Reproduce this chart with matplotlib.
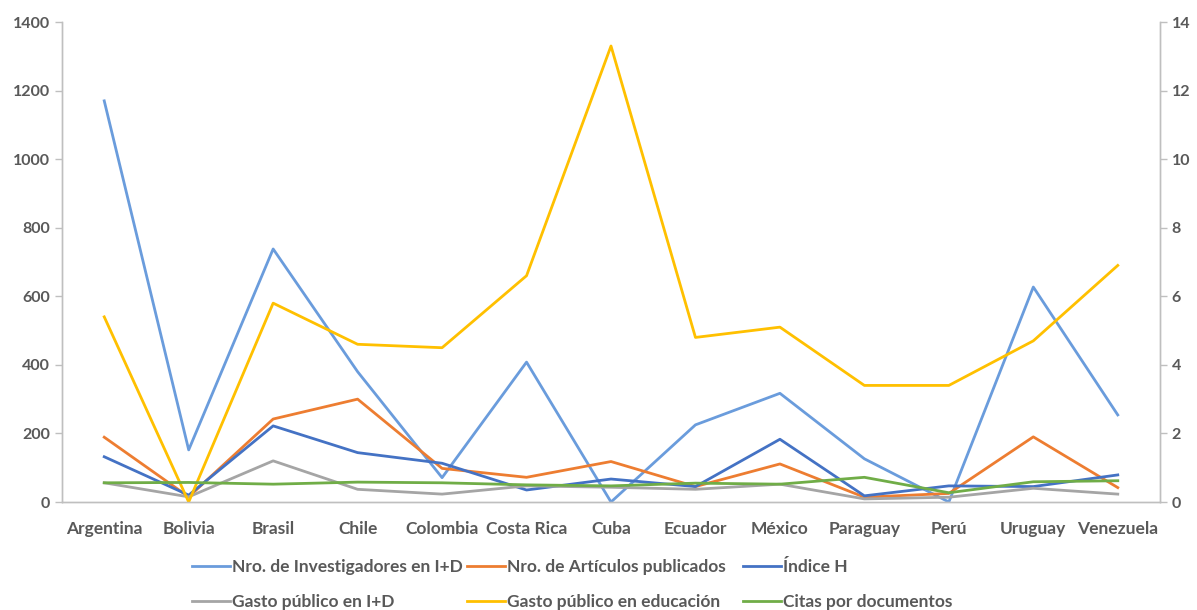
import numpy             as np
import matplotlib.pyplot as plt

plt.rcParams['font.family'] = ['Lato', 'DejaVu Sans']

# Countries along the x axis
countries = ['Argentina', 'Bolivia', 'Brasil', 'Chile', 'Colombia', 'Costa Rica',
             'Cuba', 'Ecuador', 'México', 'Paraguay', 'Perú', 'Uruguay', 'Venezuela']

# Left axis series
investigadores = [1170, 152, 738, 380, 71, 408, 0, 225, 317, 126, 0, 627, 254]
articulos      = [189, 15, 242, 300, 98, 72, 118, 45, 111, 14, 25, 190, 42]
indice_h       = [132, 20, 222, 144, 113, 35, 67, 45, 183, 18, 47, 45, 79]

# Right axis series
gasto_id        = [0.56, 0.15, 1.20, 0.37, 0.23, 0.47, 0.43, 0.37, 0.52, 0.09, 0.14, 0.40, 0.23]
gasto_educacion = [5.4, 0.0, 5.8, 4.6, 4.5, 6.6, 13.3, 4.8, 5.1, 3.4, 3.4, 4.7, 6.9]
citas           = [0.56, 0.57, 0.52, 0.58, 0.56, 0.50, 0.47, 0.55, 0.52, 0.72, 0.27, 0.59, 0.62]

left_ticks  = list(range(0, 1401, 200))
right_ticks = list(range(0, 15, 2))

x = np.arange(len(countries))
lw = 2.0
text_color = '#595959'
axis_color = '#BFBFBF'
W, H = 1197, 610

fig = plt.figure(figsize=(W/100, H/100), dpi=100)
ax  = fig.add_axes([62/W, 1 - 502/H, 1098/W, 480/H])
ax2 = ax.twinx()

l1, = ax.plot(x, investigadores, color='#6A9CDC', lw=lw, label='Nro. de Investigadores en I+D')
l2, = ax.plot(x, articulos,      color='#ED7D31', lw=lw, label='Nro. de Artículos publicados')
l3, = ax.plot(x, indice_h,       color='#4472C4', lw=lw, label='Índice H')
l4, = ax2.plot(x, gasto_id,        color='#A5A5A5', lw=lw, label='Gasto público en I+D')
l5, = ax2.plot(x, gasto_educacion, color='#FFC000', lw=lw, label='Gasto público en educación')
l6, = ax2.plot(x, citas,           color='#70AD47', lw=lw, label='Citas por documentos')

ax.set_xlim(-0.5, len(countries) - 0.5)
ax.set_ylim(0, 1400)
ax2.set_ylim(0, 14)
ax.set_yticks(left_ticks)
ax2.set_yticks(right_ticks)
ax.set_xticks(x)
ax.set_xticklabels(countries)

for a in (ax, ax2):
    a.spines['top'].set_visible(False)
    for side in ('left', 'right', 'bottom'):
        a.spines[side].set_color(axis_color)
        a.spines[side].set_linewidth(1.0)
    a.tick_params(axis='y', colors=axis_color, labelcolor=text_color,
                  labelsize=11.5, length=5, width=1.0)
    for lab in a.get_yticklabels():
        lab.set_fontweight('bold')

ax.tick_params(axis='x', length=0, labelsize=12.5, labelcolor=text_color, pad=14)
for lab in ax.get_xticklabels():
    lab.set_fontweight('bold')

# Legend laid out as three equal-width columns of two rows
columns = [(l1, l4), (l2, l5), (l3, l6)]
col_x   = [192, 467, 743]
for pair, cx in zip(columns, col_x):
    leg = fig.legend(handles=list(pair), labels=[h.get_label() for h in pair],
                     loc='upper left', bbox_to_anchor=(cx/W, 1 - 559/H),
                     ncol=1, frameon=False, borderpad=0, borderaxespad=0,
                     handlelength=2.2, handletextpad=0.12, labelspacing=1.08,
                     labelcolor=text_color, prop={'weight': 'bold', 'size': 12.5})

fig.savefig('out.png', dpi=100)
